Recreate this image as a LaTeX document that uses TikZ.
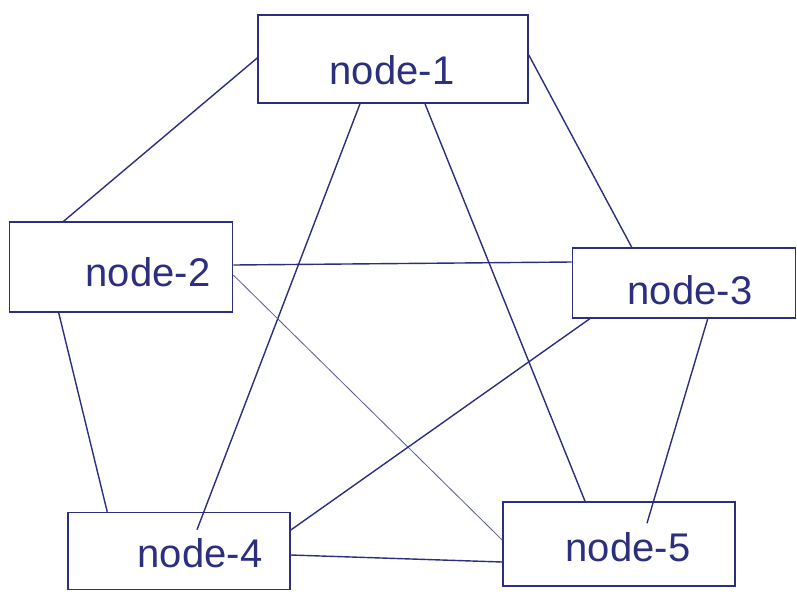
\documentclass[tikz,border=0pt]{standalone}
\usepackage{fontspec}
\setmainfont{Liberation Sans}
\usetikzlibrary{calc}
\definecolor{ink}{HTML}{2B2F7E}
\begin{document}
\begin{tikzpicture}[x=1pt,y=-1pt,
  box/.style={draw=ink,line width=1.6pt,rectangle,inner sep=0pt},
  lbl/.style={text=ink,font=\fontsize{40}{44}\selectfont},
  edge/.style={draw=ink,line width=1.4pt},
  thinedge/.style={draw=ink!80,line width=0.8pt}]
\useasboundingbox[fill=white] (0,0) rectangle (797,595);
\node[box,minimum width=270pt,minimum height=88pt] (n1) at (393,59) {};
\node[lbl] (t1) at (392,70) {node-1};
\node[box,minimum width=223pt,minimum height=90pt] (n2) at (121,267) {};
\node[lbl] (t2) at (148,272) {node-2};
\node[box,minimum width=223pt,minimum height=70pt] (n3) at (684,283) {};
\node[lbl] (t3) at (690,290) {node-3};
\node[box,minimum width=222pt,minimum height=77pt] (n4) at (179,551) {};
\node[lbl] (t4) at (200,553) {node-4};
\node[box,minimum width=232pt,minimum height=84pt] (n5) at (619,544) {};
\node[lbl] (t5) at (628,547) {node-5};
% edges
\draw[edge] ([yshift=1pt]n1.west) -- ([xshift=55pt]n2.north west);
\draw[edge] ([yshift=4pt]n1.east) -- ([xshift=60pt]n3.north west);
\draw[edge] ([xshift=-33pt]n1.south) -- ([xshift=18pt,yshift=-18pt]n4.north);
\draw[edge] ([xshift=32pt]n1.south) -- ([xshift=-34pt]n5.north);
\draw[edge] ([yshift=2pt]n2.east) -- ([yshift=21pt]n3.west);
\draw[thinedge] ([yshift=-8pt]n2.east) -- ([yshift=4pt]n5.west);
\draw[edge] ([xshift=50pt]n2.south west) -- ([xshift=40pt]n4.north west);
\draw[edge] ([xshift=18pt]n3.south west) -- ([yshift=21pt]n4.east);
\draw[edge] ([xshift=136pt]n3.south west) -- ([xshift=28pt,yshift=-22pt]n5.north);
\draw[edge] ([yshift=-4pt]n4.east) -- ([yshift=-18pt]n5.west);
\end{tikzpicture}
\end{document}
